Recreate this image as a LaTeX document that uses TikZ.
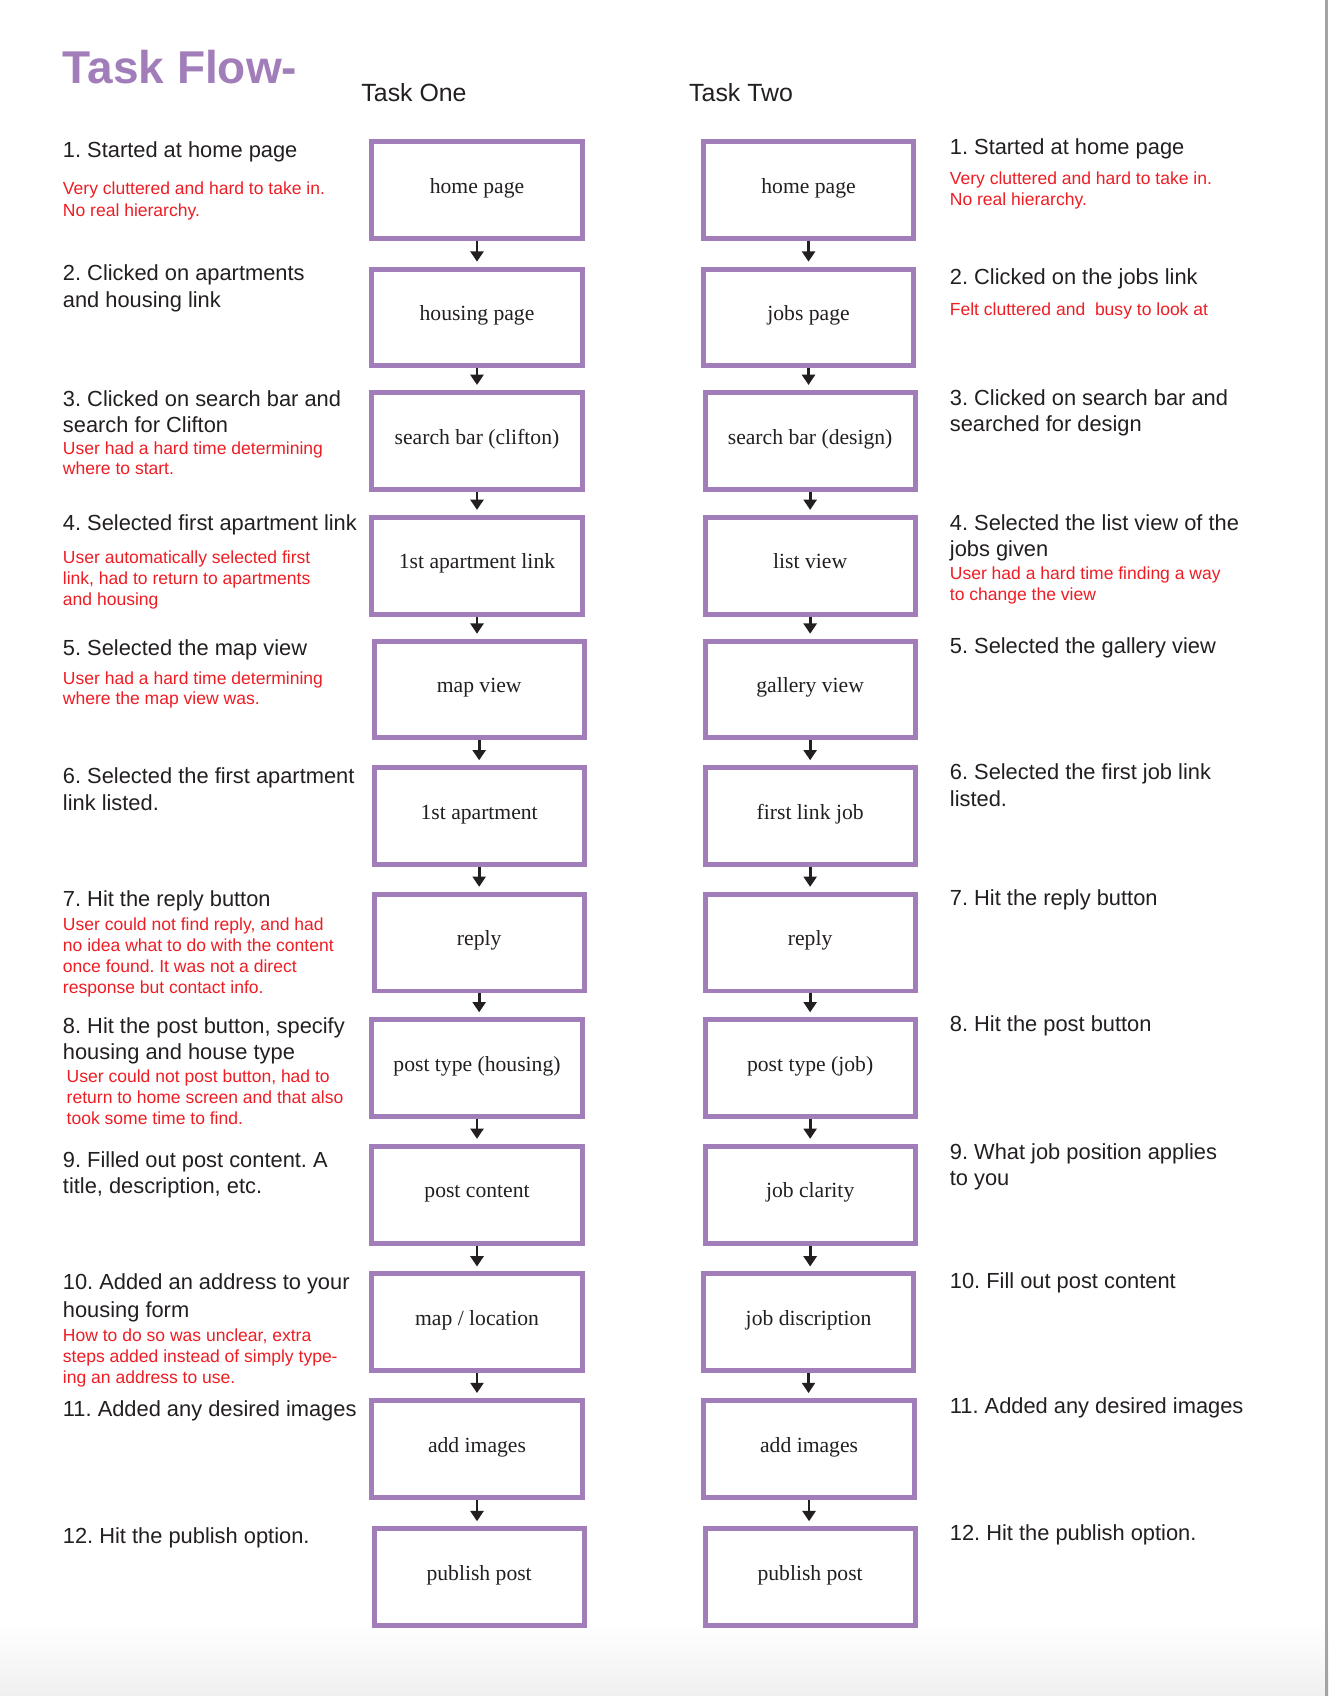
\documentclass[tikz,border=0pt]{standalone}
\usepackage{fontspec}
\setmainfont{Liberation Serif}
\setsansfont{Liberation Sans}
\usetikzlibrary{arrows.meta}
\definecolor{purp}{HTML}{A17DB9}
\definecolor{redt}{HTML}{EE1D24}
\definecolor{ink}{HTML}{231F20}
\begin{document}
\frenchspacing
\begin{tikzpicture}[x=1pt,y=-1pt,
  lbl/.style={font=\sffamily\fontsize{20.2}{24}\selectfont, text=ink, anchor=base west, inner sep=0pt},
  note/.style={font=\sffamily\fontsize{16.2}{20}\selectfont, text=redt, anchor=base west, inner sep=0pt},
  stepbox/.style={draw=purp, line width=4.6pt, minimum width=194.4pt, minimum height=89.4pt, inner sep=0pt, fill=white},
  boxtxt/.style={font=\rmfamily\fontsize{20}{24}\selectfont, text=ink, anchor=base, inner sep=0pt},
  arr/.style={draw=ink, line width=2.5pt, -{Triangle[width=12pt,length=9.5pt]}, shorten >=4.6pt},
  head/.style={font=\sffamily\fontsize{23}{28}\selectfont, text=ink, anchor=base west, inner sep=0pt}]
\useasboundingbox (0,0) rectangle (1228,1568);
\fill[white] (0,0) rectangle (1228,1568);
\shade[top color=white,bottom color=black!6] (0,1500) rectangle (1228,1568);
\fill[black!36] (1225,0) rectangle (1228,1568);

% headings
\node[font=\sffamily\bfseries\fontsize{42.5}{48}\selectfont, text=purp, anchor=base west, inner sep=0pt] (title) at (58,77) {Task Flow-};
\node[head] (taskone) at (334,93.4) {Task One};
\node[head] (tasktwo) at (637,93.4) {Task Two};

% boxes
\foreach \i/\xl/\xr/\y/\lt/\rt in {
 1/441/747.5/175.5/{home page}/{home page},
 2/441/747.5/293.5/{housing page}/{jobs page},
 3/441/749/407.5/{search bar (clifton)}/{search bar (design)},
 4/441/749/523/{1st apartment link}/{list view},
 5/443/749/637.5/{map view}/{gallery view},
 6/443/749/754.5/{1st apartment}/{first link job},
 7/443/749/871.5/{reply}/{reply},
 8/441/749/987.5/{post type (housing)}/{post type (job)},
 9/441/749/1104.5/{post content}/{job clarity},
 10/441/747.5/1222.5/{map / location}/{job discription},
 11/441/748/1339.5/{add images}/{add images},
 12/443/749/1458/{publish post}/{publish post}}
{
  \node[stepbox] (L\i) at (\xl,\y) {};
  \node[boxtxt] (LT\i) at (\xl,\y+3) {\lt};
  \node[stepbox] (R\i) at (\xr,\y) {};
  \node[boxtxt] (RT\i) at (\xr,\y+3) {\rt};
}
\foreach \i [count=\j from 2] in {1,...,11} {
  \draw[arr] (L\i.south) -- (L\i.south |- L\j.north);
  \draw[arr] (R\i.south) -- (R\i.south |- R\j.north);
}

% left descriptions
\node[lbl] (l1a) at (58,146) {1. Started at home page};
\node[note] (n1a) at (58,179.5) {Very cluttered and hard to take in.};
\node[note] (n1b) at (58,199.7) {No real hierarchy.};
\node[lbl] (l2a) at (58,259.5) {2. Clicked on apartments};
\node[lbl] (l2b) at (58,284) {and housing link};
\node[lbl] (l3a) at (58,375.4) {3. Clicked on search bar and};
\node[lbl] (l3b) at (58,399.5) {search for Clifton};
\node[note] (n3a) at (58,419.8) {User had a hard time determining};
\node[note] (n3b) at (58,439) {where to start.};
\node[lbl] (l4a) at (58,490) {4. Selected first apartment link};
\node[note] (n4a) at (58,521) {User automatically selected first};
\node[note] (n4b) at (58,540.4) {link, had to return to apartments};
\node[note] (n4c) at (58,559.8) {and housing};
\node[lbl] (l5a) at (58,605.7) {5. Selected the map view};
\node[note] (n5a) at (58,632.5) {User had a hard time determining};
\node[note] (n5b) at (58,651.5) {where the map view was.};
\node[lbl] (l6a) at (58,724) {6. Selected the first apartment};
\node[lbl] (l6b) at (58,749) {link listed.};
\node[lbl] (l7a) at (58,837.8) {7. Hit the reply button};
\node[note] (n7a) at (58,860.6) {User could not find reply, and had};
\node[note] (n7b) at (58,880) {no idea what to do with the content};
\node[note] (n7c) at (58,899.3) {once found. It was not a direct};
\node[note] (n7d) at (58,918.6) {response but contact info.};
\node[lbl] (l8a) at (58,955.5) {8. Hit the post button, specify};
\node[lbl] (l8b) at (58,979.6) {housing and house type};
\node[note] (n8a) at (61.5,1000.8) {User could not post button, had to};
\node[note] (n8b) at (61.5,1020.3) {return to home screen and that also};
\node[note] (n8c) at (61.5,1039.7) {took some time to find.};
\node[lbl] (l9a) at (58,1079) {9. Filled out post content. A};
\node[lbl] (l9b) at (58,1103) {title, description, etc.};
\node[lbl] (l10a) at (58,1192.3) {10. Added an address to your};
\node[lbl] (l10b) at (58,1217.6) {housing form};
\node[note] (n10a) at (58,1240.7) {How to do so was unclear, extra};
\node[note] (n10b) at (58,1260.1) {steps added instead of simply type-};
\node[note] (n10c) at (58,1279.5) {ing an address to use.};
\node[lbl] (l11a) at (58,1310) {11. Added any desired images};
\node[lbl] (l12a) at (58,1427) {12. Hit the publish option.};

% right descriptions
\node[lbl] (r1a) at (878,143.3) {1. Started at home page};
\node[note] (m1a) at (878,171) {Very cluttered and hard to take in.};
\node[note] (m1b) at (878,190.2) {No real hierarchy.};
\node[lbl] (r2a) at (878,262.6) {2. Clicked on the jobs link};
\node[note] (m2a) at (878,291.3) {Felt cluttered and\ \ busy to look at};
\node[lbl] (r3a) at (878,375) {3. Clicked on search bar and};
\node[lbl] (r3b) at (878,399) {searched for design};
\node[lbl] (r4a) at (878,490) {4. Selected the list view of the};
\node[lbl] (r4b) at (878,514.8) {jobs given};
\node[note] (m4a) at (878,535.7) {User had a hard time finding a way};
\node[note] (m4b) at (878,554.8) {to change the view};
\node[lbl] (r5a) at (878,604.2) {5. Selected the gallery view};
\node[lbl] (r6a) at (878,721) {6. Selected the first job link};
\node[lbl] (r6b) at (878,746) {listed.};
\node[lbl] (r7a) at (878,837) {7. Hit the reply button};
\node[lbl] (r8a) at (878,954) {8. Hit the post button};
\node[lbl] (r9a) at (878,1072) {9. What job position applies};
\node[lbl] (r9b) at (878,1096) {to you};
\node[lbl] (r10a) at (878,1191) {10. Fill out post content};
\node[lbl] (r11a) at (878,1307) {11. Added any desired images};
\node[lbl] (r12a) at (878,1424) {12. Hit the publish option.};
\end{tikzpicture}
\end{document}
